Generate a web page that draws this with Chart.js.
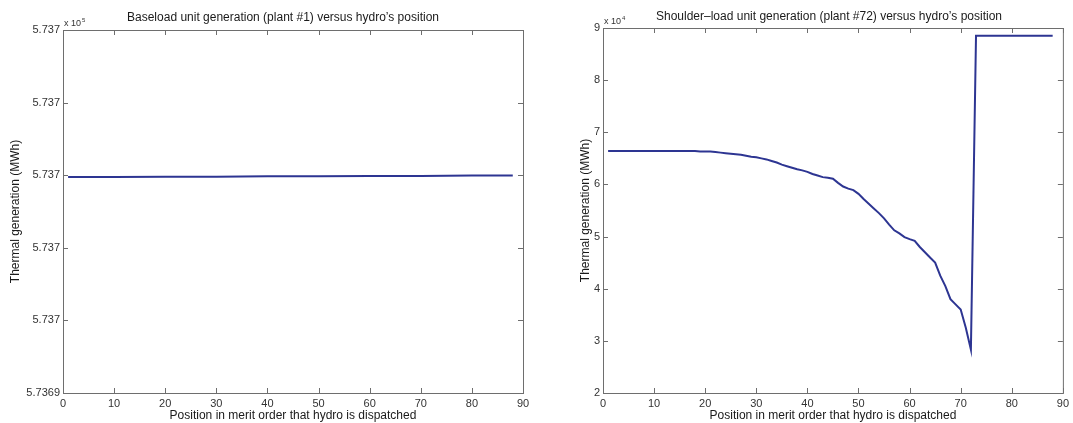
<!DOCTYPE html>
<html>
<head>
<meta charset="utf-8">
<script src="https://cdn.jsdelivr.net/npm/chart.js@4.4.1/dist/chart.umd.min.js"></script>
<style>
  html, body { margin: 0; padding: 0; background: #fff; }
  #wrap { position: relative; width: 1073px; height: 423px; }
  .box { position: absolute; top: 0; height: 423px; }
</style>
</head>
<body>
<div id="wrap">
  <div class="box" style="left:0;width:540px"><canvas id="baseChart"></canvas></div>
  <div class="box" style="left:540px;width:533px"><canvas id="shoulderChart"></canvas></div>
</div>
<script>
/* ---------- data ---------- */
const xTicks = [0, 10, 20, 30, 40, 50, 60, 70, 80, 90];

// baseload plant #1, generation in units of 10^5 MWh
const basePositions = [1, 10, 20, 30, 40, 50, 60, 70, 80, 88];
const baseValues = [5.7369595, 5.7369595, 5.7369596, 5.7369596, 5.7369597,
                    5.7369597, 5.7369598, 5.7369598, 5.7369599, 5.7369599];
const baseTickValues = [5.7369, 5.73692, 5.73694, 5.73696, 5.73698, 5.737];
const baseTickLabels = ["5.7369", "5.737", "5.737", "5.737", "5.737", "5.737"];

// shoulder-load plant #72, generation in units of 10^4 MWh
const shoulderPositions = [
  1, 2, 3, 4, 5, 6, 7, 8, 9, 10, 11, 12, 13, 14, 15, 16, 17, 18, 19, 20,
  21, 22, 23, 24, 25, 26, 27, 28, 29, 30, 31, 32, 33, 34, 35, 36, 37, 38, 39, 40,
  41, 42, 43, 44, 45, 46, 47, 48, 49, 50, 51, 52, 53, 54, 55, 56, 57, 58, 59, 60,
  61, 62, 63, 64, 65, 66, 67, 68, 69, 70, 71, 72, 73, 74, 75, 76, 77, 78, 79, 80,
  81, 82, 83, 84, 85, 86, 87, 88
];
const shoulderValues = [
  6.64, 6.64, 6.64, 6.64, 6.64, 6.64, 6.64, 6.64, 6.64, 6.64,
  6.64, 6.64, 6.64, 6.64, 6.64, 6.64, 6.64, 6.64, 6.63, 6.63,
  6.63, 6.62, 6.61, 6.60, 6.59, 6.58, 6.57, 6.55, 6.53, 6.52,
  6.50, 6.48, 6.45, 6.42, 6.38, 6.35, 6.32, 6.29, 6.27, 6.24,
  6.20, 6.17, 6.14, 6.13, 6.11, 6.03, 5.96, 5.92, 5.89, 5.82,
  5.72, 5.63, 5.54, 5.45, 5.35, 5.23, 5.12, 5.06, 4.99, 4.95,
  4.92, 4.80, 4.70, 4.60, 4.50, 4.25, 4.05, 3.80, 3.70, 3.60,
  3.25, 2.83, 8.85, 8.85, 8.85, 8.85, 8.85, 8.85, 8.85, 8.85,
  8.85, 8.85, 8.85, 8.85, 8.85, 8.85, 8.85, 8.85
];
const shoulderTicks = [2, 3, 4, 5, 6, 7, 8, 9];

const FONT = "'Liberation Sans', Arial, Helvetica, sans-serif";
const LINE_COLOR = "#2d3592";
const FRAME_COLOR = "#6e6e6e";

/* ---------- matlab style frame: box, inward ticks, title, exponent ---------- */
const matlabFrame = {
  id: "matlabFrame",
  afterDraw(chart, args, opts) {
    const { ctx, chartArea: a, scales } = chart;
    ctx.save();
    ctx.strokeStyle = FRAME_COLOR;
    ctx.lineWidth = 1;
    ctx.strokeRect(a.left + 0.5, a.top + 0.5, a.right - a.left, a.bottom - a.top);

    const len = 5;
    ctx.beginPath();
    scales.x.ticks.forEach(t => {
      const px = Math.round(scales.x.getPixelForValue(t.value)) + 0.5;
      ctx.moveTo(px, a.bottom); ctx.lineTo(px, a.bottom - len);
      ctx.moveTo(px, a.top); ctx.lineTo(px, a.top + len);
    });
    scales.y.ticks.forEach(t => {
      const py = Math.round(scales.y.getPixelForValue(t.value)) + 0.5;
      ctx.moveTo(a.left, py); ctx.lineTo(a.left + len, py);
      ctx.moveTo(a.right, py); ctx.lineTo(a.right - len, py);
    });
    ctx.stroke();

    // title
    ctx.fillStyle = "#1a1a1a";
    ctx.font = "12px " + FONT;
    ctx.textAlign = "center";
    ctx.textBaseline = "middle";
    ctx.fillText(opts.title, opts.titleX, opts.titleY);

    // exponent label (x 10^n)
    ctx.fillStyle = "#333";
    ctx.textAlign = "left";
    ctx.font = "9px " + FONT;
    ctx.fillText("x 10", a.left + 1, a.top - 6);
    const w = ctx.measureText("x 10").width;
    ctx.font = "6px " + FONT;
    ctx.fillText(opts.exponent, a.left + 1 + w + 1, a.top - 10);
    ctx.restore();
  }
};

function baseOptions(cfg) {
  return {
    responsive: true,
    maintainAspectRatio: false,
    animation: false,
    layout: { padding: { top: cfg.padTop, right: cfg.padRight, left: 0, bottom: 0 } },
    plugins: {
      legend: { display: false },
      tooltip: { enabled: false },
      matlabFrame: { title: cfg.title, titleX: cfg.titleX, titleY: cfg.titleY, exponent: cfg.exponent }
    },
    scales: {
      x: {
        type: "linear",
        min: 0,
        max: 90,
        afterBuildTicks: s => { s.ticks = xTicks.map(v => ({ value: v })); },
        afterFit: s => { s.height = 30; },
        grid: { display: false, drawTicks: false },
        border: { display: false },
        ticks: { padding: 4, color: "#333", font: { family: FONT, size: 11 }, maxRotation: 0 },
        title: {
          display: true,
          text: "Position in merit order that hydro is dispatched",
          color: "#1a1a1a",
          font: { family: FONT, size: 12 },
          padding: { top: 0, bottom: 0 }
        }
      },
      y: {
        type: "linear",
        min: cfg.yMin,
        max: cfg.yMax,
        afterBuildTicks: s => { s.ticks = cfg.yTicks.map(v => ({ value: v })); },
        afterFit: s => { s.width = 63; },
        grid: { display: false, drawTicks: false },
        border: { display: false },
        ticks: {
          padding: 3,
          color: "#333",
          font: { family: FONT, size: 11 },
          callback: (v, i) => cfg.yLabels[i]
        },
        title: {
          display: true,
          text: "Thermal generation (MWh)",
          color: "#1a1a1a",
          font: { family: FONT, size: 12 },
          padding: { top: cfg.yTitlePad, bottom: 0 }
        }
      }
    }
  };
}

function lineDataset(xs, ys) {
  return {
    data: xs.map((x, i) => ({ x: x, y: ys[i] })),
    borderColor: LINE_COLOR,
    borderWidth: 2,
    pointRadius: 0,
    tension: 0,
    fill: false
  };
}

new Chart(document.getElementById("baseChart"), {
  type: "line",
  data: { datasets: [lineDataset(basePositions, baseValues)] },
  options: baseOptions({
    padTop: 30, padRight: 17,
    title: "Baseload unit generation (plant #1) versus hydro\u2019s position",
    titleX: 283, titleY: 18, exponent: "5",
    yMin: 5.7369, yMax: 5.737,
    yTicks: baseTickValues, yLabels: baseTickLabels,
    yTitlePad: 8
  }),
  plugins: [matlabFrame]
});

new Chart(document.getElementById("shoulderChart"), {
  type: "line",
  data: { datasets: [lineDataset(shoulderPositions, shoulderValues)] },
  options: baseOptions({
    padTop: 28, padRight: 8,
    title: "Shoulder\u2013load unit generation (plant #72) versus hydro\u2019s position",
    titleX: 289, titleY: 17, exponent: "4",
    yMin: 2, yMax: 9,
    yTicks: shoulderTicks, yLabels: shoulderTicks.map(String),
    yTitlePad: 38
  }),
  plugins: [matlabFrame]
});
</script>
</body>
</html>
